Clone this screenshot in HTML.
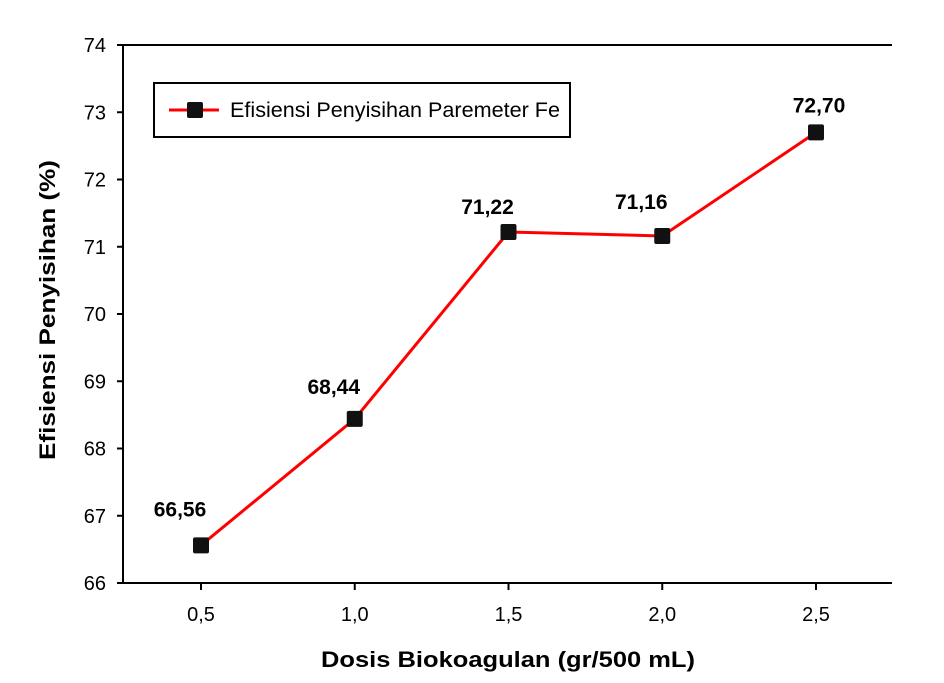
<!DOCTYPE html>
<html><head><meta charset="utf-8"><style>
body{margin:0;background:#fff}
svg text{font-family:"Liberation Sans",Arial,sans-serif}
</style></head><body>
<svg id="chart" width="944" height="678" viewBox="0 0 944 678">
<g id="axes"></g><g id="series"></g>
<g>
<rect x="154" y="83" width="416" height="54" fill="#fff" stroke="#000" stroke-width="2"/>
<line x1="169" y1="110" x2="219" y2="110" stroke="#f00" stroke-width="3"/>
<rect x="187" y="102" width="16" height="16" rx="2" fill="#111"/>
<text x="230" y="117" font-size="21" textLength="330" lengthAdjust="spacingAndGlyphs">Efisiensi Penyisihan Paremeter Fe</text>
</g>
<text x="508" y="667" font-size="22" font-weight="bold" text-anchor="middle" textLength="374" lengthAdjust="spacingAndGlyphs">Dosis Biokoagulan (gr/500 mL)</text>
<text transform="translate(55,310) rotate(-90)" font-size="22" font-weight="bold" text-anchor="middle" textLength="300" lengthAdjust="spacingAndGlyphs">Efisiensi Penyisihan (%)</text>
</svg>
<script>
const categories=[0.5,1.0,1.5,2.0,2.5];
const values=[66.56,68.44,71.22,71.16,72.70];
const labels=["66,56","68,44","71,22","71,16","72,70"];
const yTicks=[66,67,68,69,70,71,72,73,74];
const xTickLabels=["0,5","1,0","1,5","2,0","2,5"];
const NS="http://www.w3.org/2000/svg";
const X=v=>201+(v-0.5)*307.5;
const Y=v=>583-(v-66)*67.25;
function mk(t,a,p,txt){const e=document.createElementNS(NS,t);for(const k in a)e.setAttribute(k,a[k]);if(txt!==undefined)e.textContent=txt;p.appendChild(e);return e;}
const ax=document.getElementById('axes'),se=document.getElementById('series');
let e;
e=mk('line',{x1:123,y1:45,x2:123,y2:584,stroke:'#000','stroke-width':2},ax);

e=mk('line',{x1:117,y1:583,x2:892,y2:583,stroke:'#000','stroke-width':2},ax);

e=mk('line',{x1:117,y1:45,x2:892,y2:45,stroke:'#000','stroke-width':2},ax);

yTicks.forEach(t=>{
 mk('line',{x1:117,y1:Y(t),x2:123,y2:Y(t),stroke:'#000','stroke-width':2},ax);
 e=mk('text',{x:106,y:Y(t)+7,'font-size':20,'text-anchor':'end'},ax,String(t));
 
});
categories.forEach((c,i)=>{
 mk('line',{x1:X(c),y1:583,x2:X(c),y2:590,stroke:'#000','stroke-width':2},ax);
 e=mk('text',{x:X(c),y:621,'font-size':20,'text-anchor':'middle'},ax,xTickLabels[i]);
 
});
e=mk('polyline',{points:categories.map((c,i)=>X(c)+','+Y(values[i])).join(' '),fill:'none',stroke:'#f00','stroke-width':3},se);

const dyOff=[-29,-25,-18,-27,-20];
categories.forEach((c,i)=>{
 e=mk('rect',{x:X(c)-8,y:Y(values[i])-8,width:16,height:16,rx:2,fill:'#111'},se);
 
 e=mk('text',{x:X(c)-21,y:Y(values[i])+dyOff[i],'font-size':21,'font-weight':'bold','text-anchor':'middle'},se,labels[i]);
 if(i===4)e.setAttribute('x',X(c)+3);
 
});
</script>
</body></html>
